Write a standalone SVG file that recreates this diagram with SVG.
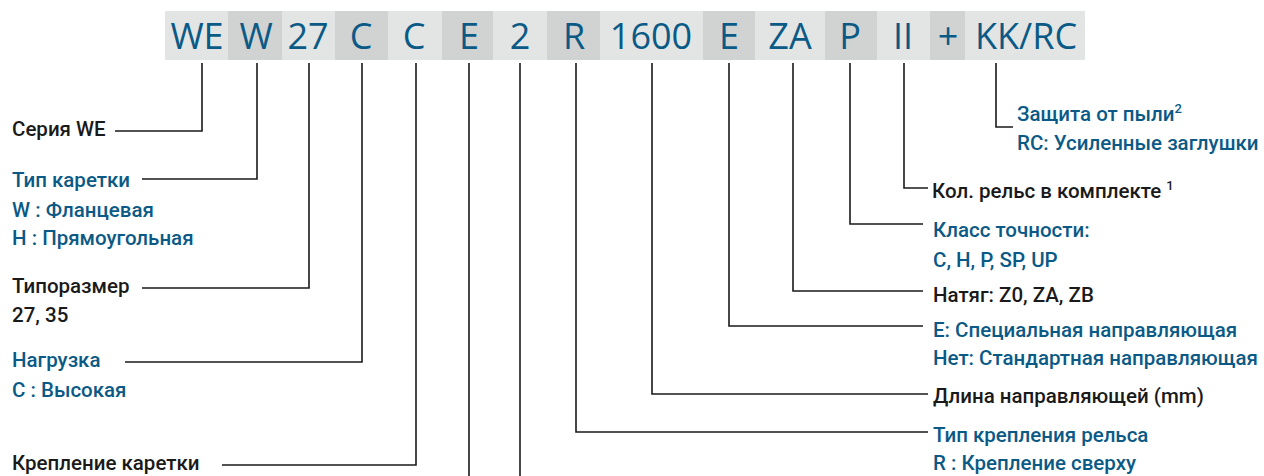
<svg xmlns="http://www.w3.org/2000/svg" width="1264" height="476" viewBox="0 0 1264 476">
<style>
.bg{fill:#ffffff}
.cl{fill:#e3e5e5}
.cd{fill:#d1d3d3}
.code{font-family:"Open Sans","Liberation Sans",sans-serif;font-size:36px;font-weight:500;fill:#0b5a86;text-anchor:middle}
.t{font-family:Roboto,"Liberation Sans",sans-serif;font-size:20.5px;font-weight:500}
.k{fill:#1a1a1a}
.b{fill:#0b5a86}
.sup{font-size:13px}
.ln{fill:none;stroke:#1a1a1a;stroke-width:1.6}
</style>
<rect class="bg" x="0" y="0" width="1264" height="476"/>
<g id="code-bar">
<rect class="cl" x="165" y="11" width="63" height="49"/>
<rect class="cd" x="228" y="11" width="54" height="49"/>
<rect class="cl" x="282" y="11" width="53" height="49"/>
<rect class="cd" x="335" y="11" width="53" height="49"/>
<rect class="cl" x="388" y="11" width="54" height="49"/>
<rect class="cd" x="442" y="11" width="51" height="49"/>
<rect class="cl" x="493" y="11" width="54" height="49"/>
<rect class="cd" x="547" y="11" width="53" height="49"/>
<rect class="cl" x="600" y="11" width="103" height="49"/>
<rect class="cd" x="703" y="11" width="52" height="49"/>
<rect class="cl" x="755" y="11" width="70" height="49"/>
<rect class="cd" x="825" y="11" width="52" height="49"/>
<rect class="cl" x="877" y="11" width="53" height="49"/>
<rect class="cd" x="930" y="11" width="35" height="49"/>
<rect class="cl" x="965" y="11" width="120" height="49"/>
<text class="code" x="197" y="49">WE</text>
<text class="code" x="256" y="49">W</text>
<text class="code" x="308" y="49">27</text>
<text class="code" x="361" y="49">C</text>
<text class="code" x="414" y="49">C</text>
<text class="code" x="469" y="49">E</text>
<text class="code" x="520" y="49">2</text>
<text class="code" x="574" y="49">R</text>
<text class="code" x="651" y="49">1600</text>
<text class="code" x="729" y="49">E</text>
<text class="code" x="790" y="49">ZA</text>
<text class="code" x="850" y="49">P</text>
<text class="code" x="903" y="49">II</text>
<text class="code" x="948" y="49">+</text>
<text class="code" x="1026" y="49">KK/RC</text>
</g>
<g id="connectors">
<polyline class="ln" points="202,63 202,131 115,131"/>
<polyline class="ln" points="257,63 257,179 142,179"/>
<polyline class="ln" points="309,63 309,288 142,288"/>
<polyline class="ln" points="362,63 362,362 125,362"/>
<polyline class="ln" points="416,63 416,465 222,465"/>
<polyline class="ln" points="469,63 469,476"/>
<polyline class="ln" points="520,63 520,476"/>
<polyline class="ln" points="576,63 576,432 928,432"/>
<polyline class="ln" points="652,63 652,394 928,394"/>
<polyline class="ln" points="729,63 729,326 923,326"/>
<polyline class="ln" points="793,63 793,291 923,291"/>
<polyline class="ln" points="850,63 850,224 923,224"/>
<polyline class="ln" points="904,63 904,188 928,188"/>
<polyline class="ln" points="996,63 996,127 1013,127"/>
</g>
<g id="series"><text class="t k" x="12" y="136">Серия WE</text></g>
<g id="block-type"><text class="t b" x="12" y="187">Тип каретки</text><text class="t b" x="12" y="217">W : Фланцевая</text><text class="t b" x="12" y="245">H : Прямоугольная</text></g>
<g id="size"><text class="t k" x="12" y="293">Типоразмер</text><text class="t k" x="12" y="322">27, 35</text></g>
<g id="load"><text class="t b" x="12" y="367">Нагрузка</text><text class="t b" x="12" y="397">С : Высокая</text></g>
<g id="block-mount"><text class="t k" x="12" y="470">Крепление каретки</text></g>
<g id="dust"><text class="t b" x="1017" y="121">Защита от пыли<tspan class="sup" dy="-8">2</tspan></text><text class="t b" x="1017" y="150">RC: Усиленные заглушки</text></g>
<g id="rails-count"><text class="t k" x="932" y="198">Кол. рельс в комплекте <tspan class="sup" dy="-8">1</tspan></text></g>
<g id="accuracy"><text class="t b" x="933" y="237">Класс точности:</text><text class="t b" x="933" y="267">C, H, P, SP, UP</text></g>
<g id="preload"><text class="t k" x="933" y="302">Натяг: Z0, ZA, ZB</text></g>
<g id="rail-special"><text class="t b" x="933" y="337">E: Специальная направляющая</text><text class="t b" x="933" y="365">Нет: Стандартная направляющая</text></g>
<g id="rail-length"><text class="t k" x="933" y="403">Длина направляющей (mm)</text></g>
<g id="rail-mount"><text class="t b" x="933" y="442">Тип крепления рельса</text><text class="t b" x="933" y="470">R : Крепление сверху</text></g>
</svg>
